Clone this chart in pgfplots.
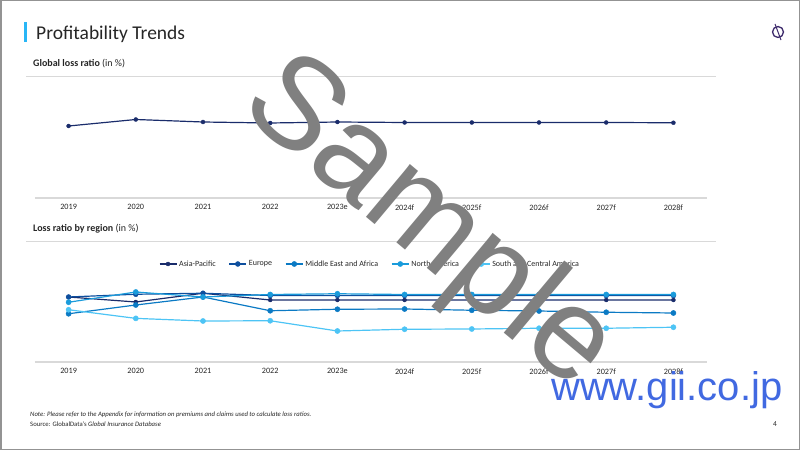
\documentclass[border=0pt]{standalone}
\usepackage{pgfplots}
\pgfplotsset{compat=1.18}
\usepackage{fontspec}
\setmainfont{Carlito}
\newfontfamily\arialfont{Liberation Sans}
\definecolor{cAP}{HTML}{1A2C6B}
\definecolor{cEU}{HTML}{0E4F9E}
\definecolor{cMEA}{HTML}{0B7AC4}
\definecolor{cNA}{HTML}{1A9BDB}
\definecolor{cSCA}{HTML}{4DC4F5}
\definecolor{axgray}{HTML}{D9D9D9}
\definecolor{titlebar}{HTML}{29B6F6}
\definecolor{wmblue}{HTML}{4169E1}
\definecolor{logo}{HTML}{3D2A6B}
\pgfplotsset{
  slidechart/.style={
    scale only axis, width=672pt, height=100pt,
    xmin=-0.5, xmax=9.5, ymin=0, ymax=80,
    axis y line=none, axis x line*=bottom,
    x axis line style={draw=axgray, line width=1.5pt, -},
    xtick={0,...,9}, major tick length=0pt,
    xticklabel style={font=\fontsize{8.2}{9}\selectfont, text=black!85, yshift=-3pt},
    clip=false,
    every axis plot/.append style={line width=1.2pt, mark=*, mark options={solid, line width=0.4pt}},
  }
}
\begin{document}
\begin{tikzpicture}[x=1pt,y=1pt]
\path[use as bounding box] (0pt,0pt) rectangle (800pt,450pt);
\draw[gray!85, line width=1.5pt] (0.75pt,0.75pt) rectangle (799.25pt,449.25pt);
% title
\fill[titlebar] (24pt,408pt) rectangle (27pt,428pt);
\node[anchor=base west, inner sep=0, font=\fontsize{19.5}{22}\selectfont, text=black!85] at (36pt,410pt) {Profitability Trends};
% logo
\draw[logo, line width=1.3pt] (778pt,418pt) circle (5.5pt);
\draw[logo, line width=1pt] (775pt,426pt) -- (781pt,410pt);
% section headers
\node[anchor=base west, inner sep=0, font=\fontsize{10}{11}\selectfont, text=black!85] at (33pt,383pt) {\textbf{Global loss ratio} (in \%)};
\draw[axgray, line width=1pt] (26pt,373pt) -- (716pt,373pt);
\node[anchor=base west, inner sep=0, font=\fontsize{10}{11}\selectfont, text=black!85] at (33pt,218pt) {\textbf{Loss ratio by region} (in \%)};
\draw[axgray, line width=1pt] (26pt,208pt) -- (716pt,208pt);

\begin{axis}[slidechart, at={(35pt,252pt)}, anchor=south west,
  xticklabels={2019,2020,2021,2022,2023e,2024f,2025f,2026f,2027f,2028f}]
\addplot[cAP, mark size=2pt] coordinates {
(0,57.6) (1,62.8) (2,60.8) (3,60.0) (4,60.8) (5,60.4) (6,60.4) (7,60.4) (8,60.4) (9,60.2)};
\end{axis}

\begin{axis}[slidechart, at={(35pt,88pt)}, anchor=south west,
  xticklabels={2019,2020,2021,2022,2023e,2024f,2025f,2026f,2027f,2028f},
  legend columns=5,
  legend style={draw=none, fill=none, at={(0.4985,0.98)}, anchor=center,
    font=\fontsize{8}{9}\selectfont, text=black!85,
    /tikz/every even column/.append style={column sep=11pt}},
  legend cell align=left]
\addplot[cAP, mark size=2pt] coordinates {
(0,52.0) (1,48.0) (2,55.0) (3,49.6) (4,49.6) (5,49.6) (6,49.6) (7,49.6) (8,49.6) (9,49.6)};
\addlegendentry{Asia-Pacific}
\addplot[cEU, mark size=2.5pt] coordinates {
(0,52.0) (1,54.2) (2,55.0) (3,53.2) (4,53.2) (5,53.2) (6,53.2) (7,53.2) (8,53.2) (9,53.2)};
\addlegendentry{Europe}
\addplot[cMEA, mark size=2.6pt] coordinates {
(0,38.6) (1,45.6) (2,52.0) (3,41.0) (4,42.2) (5,42.4) (6,41.4) (7,40.8) (8,39.8) (9,39.2)};
\addlegendentry{Middle East and Africa}
\addplot[cNA, mark size=2.6pt] coordinates {
(0,47.8) (1,56.0) (2,52.0) (3,54.0) (4,54.6) (5,54.0) (6,54.0) (7,54.0) (8,54.0) (9,54.0)};
\addlegendentry{North America}
\addplot[cSCA, mark size=2.6pt] coordinates {
(0,41.8) (1,34.9) (2,32.8) (3,33.0) (4,24.8) (5,26.2) (6,26.4) (7,27.0) (8,27.0) (9,27.8)};
\addlegendentry{South and Central America}
\end{axis}

% notes
\node[anchor=base west, inner sep=0, font=\fontsize{6.7}{7}\selectfont\itshape, text=black!85] at (30pt,33.5pt) {Note: Please refer to the Appendix for information on premiums and claims used to calculate loss ratios.};
\node[anchor=base west, inner sep=0, font=\fontsize{6.7}{7}\selectfont, text=black!85] at (30pt,23.5pt) {Source: GlobalData's \textit{Global Insurance Database}};
\node[anchor=base west, inner sep=0, font=\fontsize{7.5}{8}\selectfont, text=black!85] at (773pt,23.5pt) {4};

% watermarks
\node[rotate=-40, font=\arialfont\fontsize{130}{136}\selectfont, text=black!50] at (428pt,225pt) {Sample};
\node[anchor=base west, inner sep=0, font=\arialfont\fontsize{40}{44}\selectfont, text=wmblue] at (551pt,50pt) {www.gii.co.jp};
\end{tikzpicture}
\end{document}
